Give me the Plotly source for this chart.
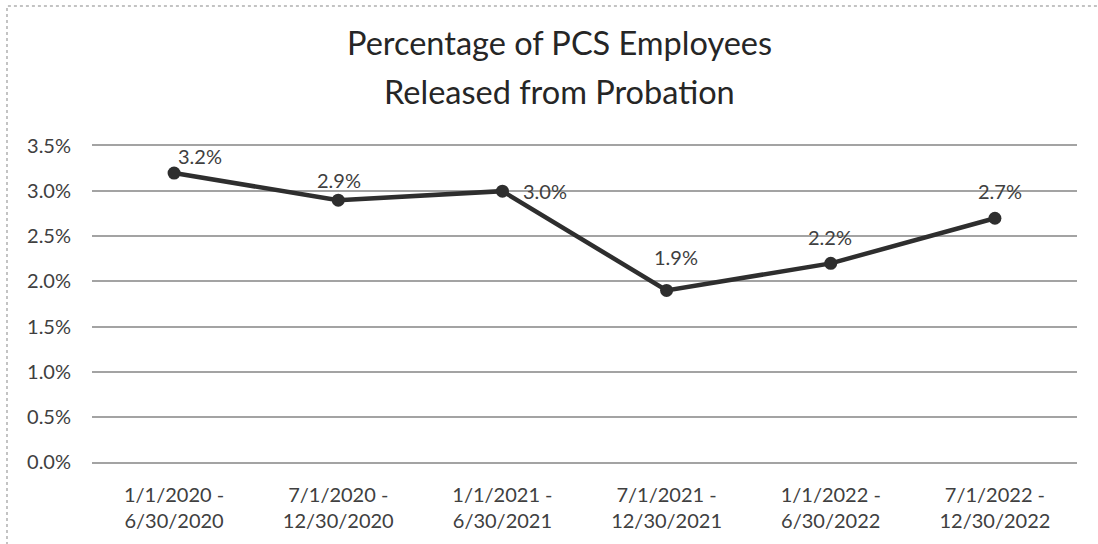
import plotly.graph_objects as go

periods = ["1/1/2020 -<br>6/30/2020", "7/1/2020 -<br>12/30/2020", "1/1/2021 -<br>6/30/2021",
           "7/1/2021 -<br>12/30/2021", "1/1/2022 -<br>6/30/2022", "7/1/2022 -<br>12/30/2022"]
pct_released = [3.2, 2.9, 3.0, 1.9, 2.2, 2.7]
y_ticks = [0, 0.5, 1.0, 1.5, 2.0, 2.5, 3.0, 3.5]
title_lines = ["Percentage of PCS Employees", "Released from Probation"]

# data-label pixel offsets (style only)
label_dx = [26, 1, 43, 9, -1, 5]
label_dy = [17, 20, 0, 33, 26, 27]

FONT = "Lato"
TXT = "#404040"
GRID = "#a3a3a3"

fig = go.Figure()
fig.add_trace(go.Scatter(
    x=periods, y=pct_released,
    mode="lines+markers",
    line=dict(color="#2e2e2e", width=4.5),
    marker=dict(color="#2e2e2e", size=13),
    cliponaxis=False,
    showlegend=False,
))

for xv, yv, dx, dy in zip(periods, pct_released, label_dx, label_dy):
    fig.add_annotation(x=xv, y=yv, xref="x", yref="y", text=f"{yv:.1f}%", showarrow=False,
                       xanchor="center", yanchor="middle", xshift=dx, yshift=dy,
                       font=dict(family=FONT, size=20, color=TXT))

fig.update_layout(
    width=1098, height=544,
    margin=dict(l=92, r=21, t=146, b=82),
    paper_bgcolor="white", plot_bgcolor="white",
    font=dict(family=FONT, color=TXT),
)
for i, line in enumerate(title_lines):
    fig.add_annotation(text=line, xref="paper", yref="paper", x=0.4745, y=[1.326, 1.171][i],
                       xanchor="center", yanchor="middle", showarrow=False,
                       font=dict(family=FONT, size=32.5, color="#262626"))

fig.update_xaxes(type="category", range=[-0.5, 5.5], showgrid=False,
                 showline=True, mirror=True, linecolor=GRID, linewidth=1.5, ticks="",
                 ticklabelstandoff=14,
                 tickfont=dict(family=FONT, size=20, color=TXT))
fig.update_yaxes(range=[0, 3.5], tickvals=y_ticks,
                 ticktext=[f"{v:.1f}%" for v in y_ticks],
                 showgrid=True, gridcolor=GRID, gridwidth=1.5,
                 zeroline=False, showline=False, ticks="",
                 ticklabelstandoff=20,
                 tickfont=dict(family=FONT, size=20, color=TXT))

fig.add_shape(type="rect", xref="paper", yref="paper", x0=-0.0863, x1=1.04, y0=-0.32, y1=1.443,
              line=dict(color="#b0b0b0", width=1.5, dash="dot"), layer="below")

fig.write_html("out.html")
